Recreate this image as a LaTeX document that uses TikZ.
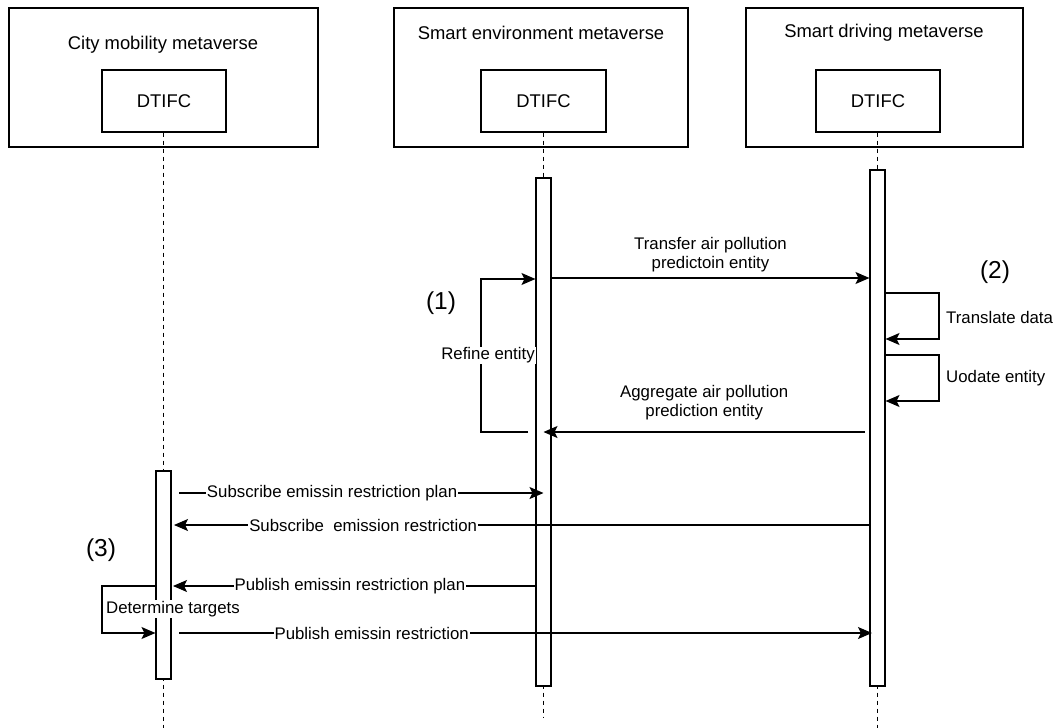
\documentclass[tikz,border=0pt]{standalone}
\usepackage{fontspec}
\setmainfont{Liberation Sans}
\usetikzlibrary{arrows.meta}
\tikzset{msgtip/.tip={Stealth[length=14pt,width=12pt,inset=3pt]}}
\begin{document}
\begin{tikzpicture}[x=1pt,y=-1pt,
  frame/.style={draw, line width=1.1pt, inner sep=0pt},
  actbar/.style={draw, fill=white, line width=1.1pt, minimum width=15pt, inner sep=0pt},
  life/.style={line width=1.4pt, dash pattern=on 4pt off 4pt},
  msg/.style={line width=1.1pt, -msgtip},
  lbl/.style={fill=white, inner sep=1pt, font=\fontsize{16.8}{19}\selectfont},
  note/.style={inner sep=0pt, font=\fontsize{16.8}{19}\selectfont},
  ttl/.style={inner sep=0pt, font=\fontsize{18.4}{22}\selectfont},
  num/.style={inner sep=0pt, font=\fontsize{24.5}{28}\selectfont}]
\useasboundingbox (0,0) rectangle (1058,728);

% participants
\node[frame, minimum width=309pt, minimum height=139pt] (city) at (163.5,77.5) {};
\node[frame, minimum width=294pt, minimum height=139pt] (env) at (541,77.5) {};
\node[frame, minimum width=277pt, minimum height=139pt] (drive) at (884.5,77.5) {};
\node[ttl] (cityT) at (163,45) {City mobility metaverse};
\node[ttl] (envT) at (541,33) {Smart environment metaverse};
\node[ttl] (driveT) at (884,33) {Smart driving metaverse};
\node[frame, ttl, minimum width=124pt, minimum height=62pt] (dA) at (164,101) {DTIFC};
\node[frame, ttl, minimum width=125pt, minimum height=62pt] (dB) at (543.5,101) {DTIFC};
\node[frame, ttl, minimum width=124pt, minimum height=62pt] (dC) at (878,101) {DTIFC};

% lifelines
\coordinate (endA) at (163.5,728);
\coordinate (endB) at (543.5,717);
\coordinate (endC) at (877.5,728);
\draw[life] (dA.south -| endA) -- (endA);
\draw[life] (dB.south -| endB) -- (endB);
\draw[life] (dC.south -| endC) -- (endC);

% activation bars
\node[actbar, minimum height=208pt] (barA) at (163.5,575) {};
\node[actbar, minimum height=508pt] (barB) at (543.5,432) {};
\node[actbar, minimum height=516pt] (barC) at (877.5,428) {};

% (1) environment side
\draw[msg] (barB.east |- 0,278) -- node[note, midway, anchor=south, yshift=5pt, align=center]
  {Transfer air pollution\\predictoin entity} (barC.west |- 0,278);
\coordinate (rf0) at (528,432);
\coordinate (rf1) at (481,432);
\coordinate (rf2) at (481,279);
\draw[msg] (rf0) -- (rf1) -- node[lbl, midway, xshift=7pt] {Refine entity} (rf2) -- (barB.west |- 0,279);
\coordinate (ag0) at (865,432);
\draw[msg] (ag0) -- node[note, midway, anchor=south, yshift=11pt, align=center]
  {Aggregate air pollution\\prediction entity} (barB.center |- 0,432);
\node[num] (n1) at (441,303) {(1)};

% (2) driving side
\coordinate (tr1) at (939,293);
\coordinate (tr2) at (939,339);
\draw[msg] (barC.east |- 0,293) -- (tr1) -- (tr2) -- (barC.east |- 0,339);
\coordinate (up1) at (939,355);
\coordinate (up2) at (939,401);
\draw[msg] (barC.east |- 0,355) -- (up1) -- (up2) -- (barC.east |- 0,401);
\node[note, anchor=west] (trL) at (946,317) {Translate data};
\node[note, anchor=west] (upL) at (946,378) {Uodate entity};
\node[num] (n2) at (995,272) {(2)};

% (3) city side
\coordinate (s0) at (179,493);
\draw[msg] (s0) -- node[lbl, pos=0.42] {Subscribe emissin restriction plan} (barB.center |- 0,493);
\coordinate (s1) at (174,525);
\draw[msg] (barC.west |- 0,525) -- node[lbl, pos=0.728] {Subscribe\ \ emission restriction} (s1);
\coordinate (p1) at (173,586);
\draw[msg] (barB.west |- 0,586) -- node[lbl, pos=0.512] {Publish emissin restriction plan} (p1);
\coordinate (dt1) at (102,586);
\coordinate (dt2) at (102,633);
\draw[msg] (barA.west |- 0,586) -- (dt1) -- (dt2) -- (barA.west |- 0,633);
\node[lbl, anchor=west] (dtL) at (105,609) {Determine targets};
\coordinate (p2) at (179,633);
\coordinate (p3) at (872,633);
\draw[msg] (p2) -- node[lbl, pos=0.278] {Publish emissin restriction} (p3);
\node[num] (n3) at (101,550) {(3)};
\end{tikzpicture}
\end{document}
